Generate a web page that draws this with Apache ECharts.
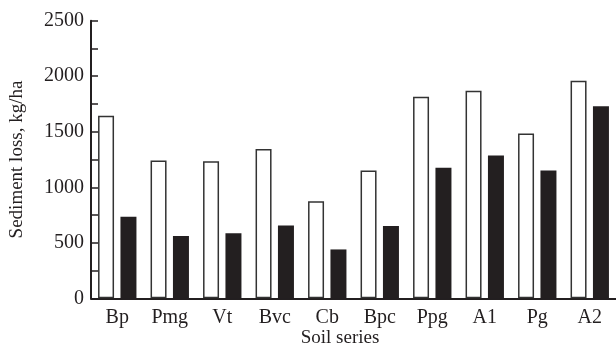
<!DOCTYPE html>
<html>
<head>
<meta charset="utf-8">
<script src="https://cdn.jsdelivr.net/npm/echarts@6/dist/echarts.min.js"></script>
<style>
  html, body { margin: 0; padding: 0; background: #fff; }
  #chart { width: 616px; height: 346px; }
</style>
</head>
<body>
<div id="chart"></div>
<script>
// soil series along the x axis
const soilSeries = ['Bp', 'Pmg', 'Vt', 'Bvc', 'Cb', 'Bpc', 'Ppg', 'A1', 'Pg', 'A2'];
// open bars and filled bars (kg/ha)
const openBars = [1645, 1240, 1235, 1345, 875, 1150, 1815, 1870, 1485, 1960];
const filledBars = [735, 560, 585, 655, 440, 650, 1175, 1285, 1150, 1730];

const serif = '"Liberation Serif", "Times New Roman", serif';
const ink = '#231f20';

const chart = echarts.init(document.getElementById('chart'));

chart.setOption({
    animation: false,
    grid: { left: 90, right: -8.5, top: 20.7, bottom: 47.7 },
    xAxis: {
        type: 'category',
        data: soilSeries,
        axisLine: { lineStyle: { color: ink, width: 2 } },
        axisTick: { show: false },
        axisLabel: { color: ink, fontFamily: serif, fontSize: 20, margin: 9 }
    },
    yAxis: {
        type: 'value',
        min: 0,
        max: 2500,
        interval: 500,
        name: 'Sediment loss, kg/ha',
        nameLocation: 'middle',
        nameGap: 64,
        nameTextStyle: { color: ink, fontFamily: serif, fontSize: 19 },
        axisLine: { show: true, lineStyle: { color: ink, width: 2 } },
        axisTick: { show: true, inside: true, length: 7, lineStyle: { color: ink, width: 1.5 } },
        minorTick: { show: true, splitNumber: 2, length: 7, lineStyle: { color: ink, width: 1.5 } },
        splitLine: { show: false },
        axisLabel: {
            color: ink, fontFamily: serif, fontSize: 20, margin: 7,
            formatter: function (v) { return String(v); }
        }
    },
    series: [
        {
            type: 'bar',
            data: openBars,
            barWidth: 16,
            barGap: '40%',
            itemStyle: { color: '#fff', borderColor: '#333', borderWidth: 1.5 }
        },
        {
            type: 'bar',
            data: filledBars,
            barWidth: 16,
            itemStyle: { color: ink }
        }
    ],
    graphic: [
        {
            type: 'text',
            x: 340,
            y: 338,
            style: {
                text: 'Soil series',
                fill: ink,
                font: '19px ' + serif,
                textAlign: 'center',
                textVerticalAlign: 'middle'
            }
        }
    ]
});
</script>
</body>
</html>
